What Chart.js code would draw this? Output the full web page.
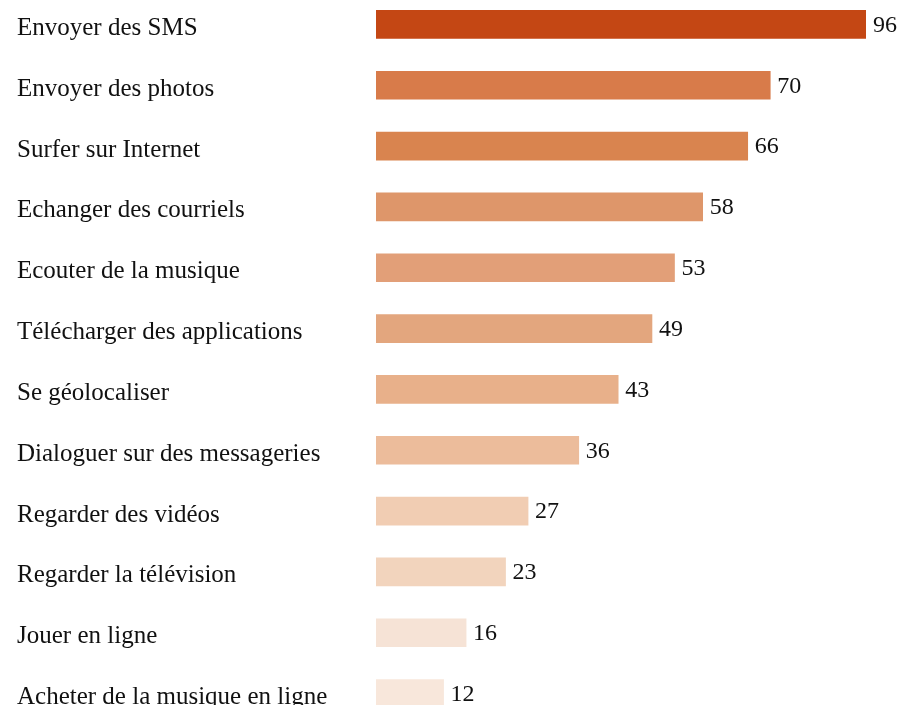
<!DOCTYPE html>
<html lang="fr">
<head>
    <meta charset="utf-8" />
    <title>Usages du mobile</title>
    <script src="https://cdn.jsdelivr.net/npm/chart.js"></script>
    <style>
        html, body {
            margin: 0;
            padding: 0;
            background: #ffffff;
            overflow: hidden;
        }

        /* chart is a bit taller than the window so the rows line up */
        .chart-box {
            position: absolute;
            left: 0;
            top: -6px;
            width: 903px;
            height: 730px;
        }
    </style>
</head>
<body>
    <div class="chart-box">
        <canvas id="myChart"></canvas>
    </div>
    <script>
        const categories = [
            'Envoyer des SMS',
            'Envoyer des photos',
            'Surfer sur Internet',
            'Echanger des courriels',
            'Ecouter de la musique',
            'Télécharger des applications',
            'Se géolocaliser',
            'Dialoguer sur des messageries',
            'Regarder des vidéos',
            'Regarder la télévision',
            'Jouer en ligne',
            'Acheter de la musique en ligne'
        ];
        const values = [96, 70, 66, 58, 53, 49, 43, 36, 27, 23, 16, 12];
        const barColors = [
            '#C44714', '#D87B4A', '#D9844F', '#DE966A', '#E29F78', '#E3A67E',
            '#E8B08A', '#ECBC9B', '#F1CDB3', '#F2D4BD', '#F6E3D6', '#F8E7DB'
        ];

        const labelFont = '24px "Liberation Serif", "Times New Roman", serif';

        // value written just after the end of each bar
        const valueLabels = {
            id: 'valueLabels',
            afterDatasetsDraw(chart) {
                const ctx = chart.ctx;
                const area = chart.chartArea;
                const meta = chart.getDatasetMeta(0);
                ctx.save();
                ctx.font = labelFont;
                ctx.fillStyle = '#111111';
                ctx.textAlign = 'left';
                ctx.textBaseline = 'middle';
                meta.data.forEach((bar, i) => {
                    const x = Math.min(bar.x, area.right) + 7;
                    ctx.fillText(String(values[i]), x, bar.y + 1);
                });
                ctx.restore();
            }
        };

        const ctx = document.getElementById('myChart').getContext('2d');
        const myChart = new Chart(ctx, {
            type: 'bar',
            data: {
                labels: categories,
                datasets: [{
                    data: values,
                    backgroundColor: barColors,
                    borderWidth: 0,
                    barThickness: 28,
                    clip: 0
                }]
            },
            options: {
                indexAxis: 'y',
                responsive: true,
                maintainAspectRatio: false,
                animation: false,
                layout: {
                    padding: { left: 17, right: 37, top: 0, bottom: 0 }
                },
                plugins: {
                    legend: { display: false },
                    title: { display: false },
                    tooltip: { enabled: false }
                },
                scales: {
                    x: {
                        display: false,
                        min: 0,
                        max: 87
                    },
                    y: {
                        grid: { display: false },
                        border: { display: false },
                        ticks: {
                            crossAlign: 'far',
                            padding: 0,
                            labelOffset: 4,
                            color: '#111111',
                            font: {
                                family: '"Liberation Serif", "Times New Roman", serif',
                                size: 25
                            }
                        },
                        afterFit: function (scale) {
                            scale.width = 359;
                            // no extra room for the first / last label
                            scale.paddingTop = 0;
                            scale.paddingBottom = 0;
                        }
                    }
                }
            },
            plugins: [valueLabels]
        });
    </script>
</body>
</html>
